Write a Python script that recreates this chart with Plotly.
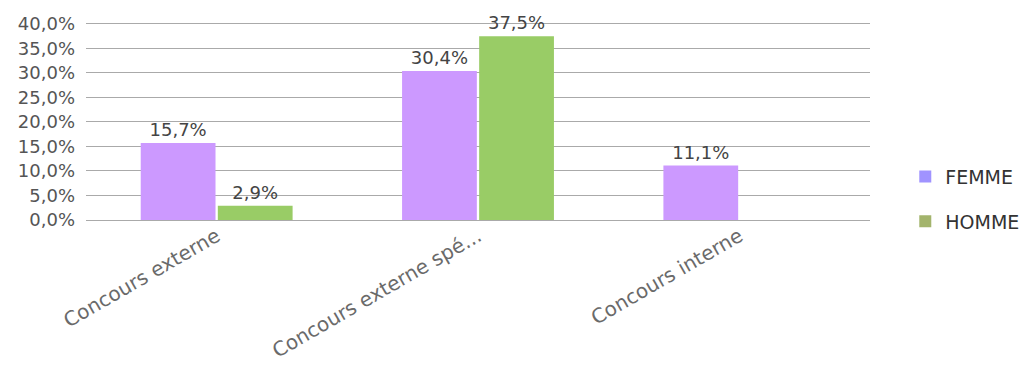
import plotly.graph_objects as go

categories = ["Concours externe", "Concours externe spé...", "Concours interne"]
femme = [15.7, 30.4, 11.1]
homme = [2.9, 37.5, None]
y_ticks = [0, 5, 10, 15, 20, 25, 30, 35, 40]
y_tick_text = [f"{v:.1f}%".replace(".", ",") for v in y_ticks]

font_family = "DejaVu Sans, Verdana, sans-serif"
bar_colors = {"FEMME": "#cc99ff", "HOMME": "#99cc66"}
legend_colors = {"FEMME": "#a093ff", "HOMME": "#a3b46c"}

fig = go.Figure()
for name, vals in [("FEMME", femme), ("HOMME", homme)]:
    fig.add_trace(go.Bar(
        x=categories, y=vals, name=name, showlegend=False,
        marker=dict(color=bar_colors[name], line=dict(width=0)),
        texttemplate="%{y:.1f}%", textposition="outside", cliponaxis=False,
        textfont=dict(color="#444444", size=18, family=font_family),
        hovertemplate="%{x}: %{y:.1f}%<extra>" + name + "</extra>",
    ))
# legend entries (legend swatches use slightly different colours in the reference)
for name in ["FEMME", "HOMME"]:
    fig.add_trace(go.Scatter(
        x=[None], y=[None], mode="markers", name=name, legendgroup=name,
        marker=dict(symbol="square", size=12, color=legend_colors[name]),
    ))

fig.update_layout(
    width=1024, height=357,
    margin=dict(l=78, r=162, t=14, b=145, autoexpand=False),
    paper_bgcolor="white", plot_bgcolor="white",
    separators=", ",
    barmode="group", bargap=0.41, bargroupgap=0.03,
    font=dict(family=font_family, size=18, color="#555555"),
    showlegend=True,
    legend=dict(x=1.045, y=0.105, xanchor="left", yanchor="middle",
                font=dict(size=19, color="#333333"),
                tracegroupgap=17, bgcolor="rgba(0,0,0,0)", itemwidth=30),
    xaxis=dict(tickangle=-30, showgrid=False, showline=False, ticks="",
               tickfont=dict(size=20, color="#6a6a6a")),
    yaxis=dict(range=[0, 40.4], tickvals=y_ticks, ticktext=y_tick_text,
               showgrid=True, gridcolor="#aaaaaa", gridwidth=1,
               zeroline=True, zerolinecolor="#aaaaaa", zerolinewidth=1,
               ticks="", ticklabelstandoff=10,
               tickfont=dict(size=18, color="#555555")),
)

fig.write_html("out.html")
